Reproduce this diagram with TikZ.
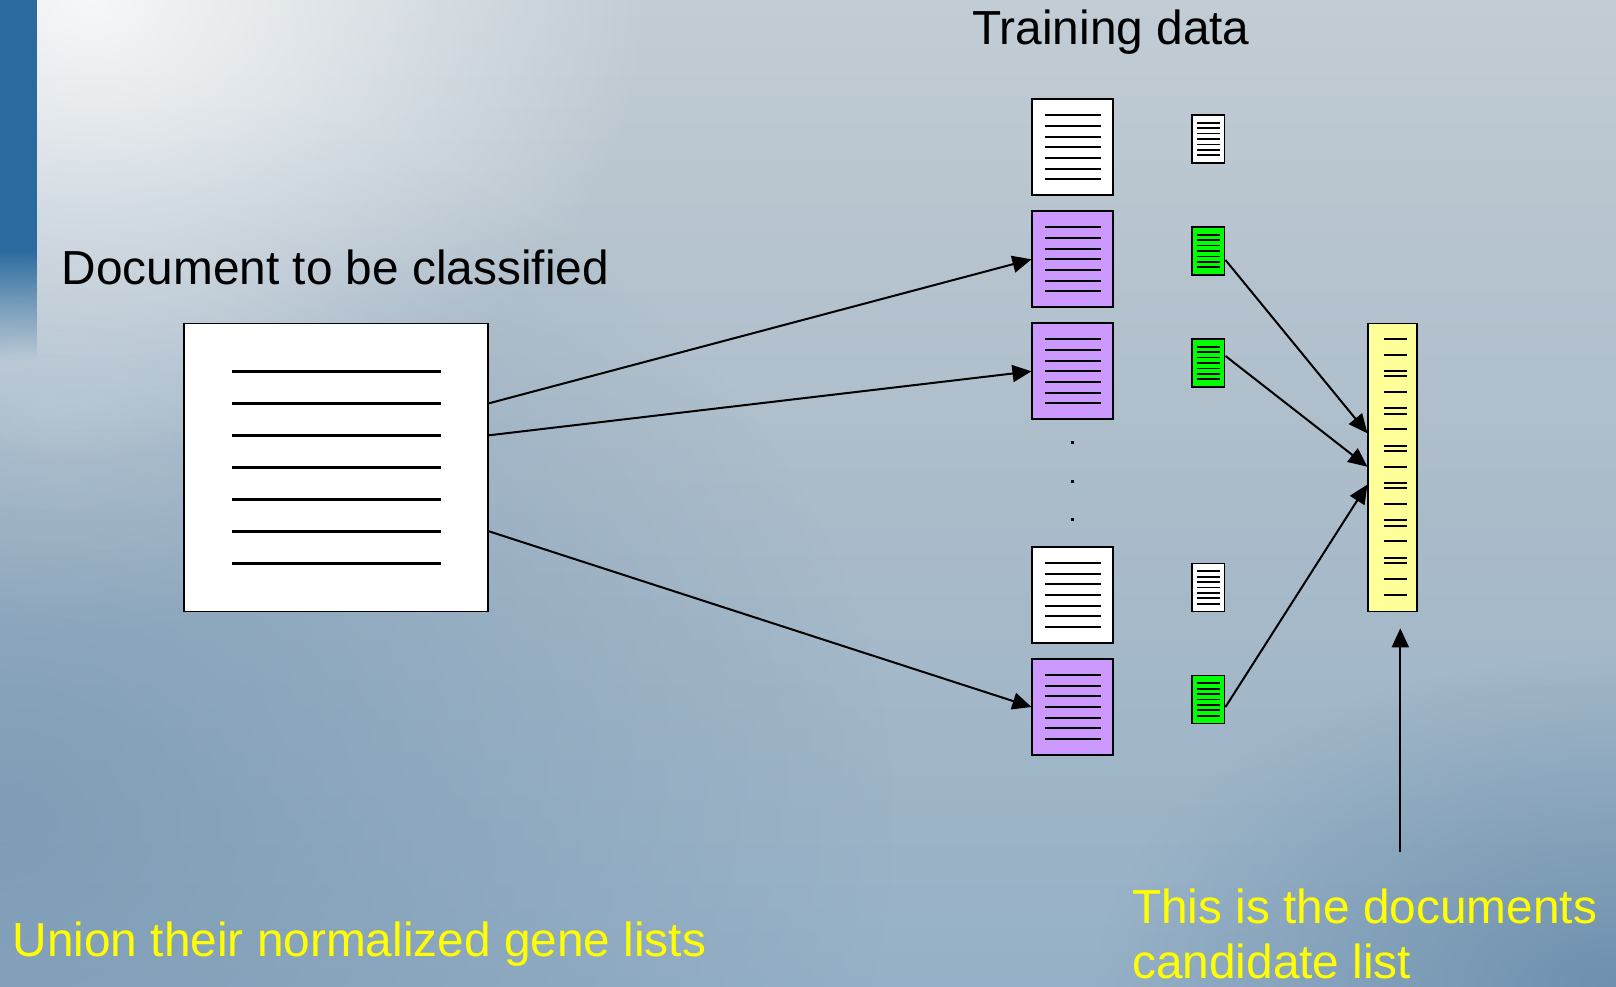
\documentclass[tikz,border=0pt]{standalone}
\usepackage{fontspec}
\setmainfont{Liberation Sans}
\usetikzlibrary{arrows.meta,calc,fadings}
\definecolor{bgtop}{HTML}{C2CCD4}
\definecolor{bgmid}{HTML}{ABBCCA}
\definecolor{bgbot}{HTML}{95B0C6}
\definecolor{bgleft}{HTML}{7696B2}
\definecolor{bgcorner}{HTML}{6589A8}
\definecolor{stripc}{HTML}{2B6A9E}
\definecolor{purp}{HTML}{CC99FF}
\definecolor{grn}{HTML}{00FF00}
\definecolor{ylw}{HTML}{FFFF99}
\definecolor{txtyel}{HTML}{FFFF00}
\tikzfading[name=fadeD, top color=transparent!0, bottom color=transparent!100]
\tikzfading[name=fadeC, inner color=transparent!0, outer color=transparent!100]
\tikzset{
  bigdoc/.style={draw=black, line width=1.8pt, minimum width=80.7pt, minimum height=96pt, inner sep=0pt},
  smalldoc/.style={draw=black, line width=1.6pt, minimum width=32.7pt, minimum height=48pt, inner sep=0pt},
  docline/.style={line width=2.1pt},
  sline/.style={line width=1.7pt},
  arr/.style={line width=2pt, -{Triangle[length=19pt,width=17pt]}},
  lbl/.style={font=\fontsize{47.8pt}{55pt}\selectfont, inner sep=0pt, anchor=base west},
}
\begin{document}
\begin{tikzpicture}[x=1pt,y=-1pt]
\useasboundingbox (0,0) rectangle (1616,987);
% background
\shade[top color=bgtop, bottom color=bgbot, middle color=bgmid] (0,0) rectangle (1616,987);
\begin{scope}
\clip (0,0) rectangle (1616,987);
\fill[bgleft, path fading=fadeC, fill opacity=0.75] (0,820) ellipse (900 and 760);
\fill[bgcorner, path fading=fadeC, fill opacity=0.8] (1616,987) ellipse (520 and 330);
\fill[white, path fading=fadeC, fill opacity=0.2] (60,420) ellipse (380 and 220);
\fill[white, path fading=fadeC, fill opacity=0.85] (90,0) ellipse (560 and 460);
\fill[stripc] (0,0) rectangle (37,250);
\fill[stripc, path fading=fadeD] (0,250) rectangle (37,360);
\end{scope}
% main document
\node[draw=black, fill=white, line width=1.8pt, minimum width=304pt, minimum height=288pt, inner sep=0pt] (main) at (336,467.5) {};
\foreach \k in {-3,...,3} \draw[docline] ($(main.center)+(-104.5,\k*32)$) -- ++(209.5,0);
% training documents
\node[bigdoc, fill=white] (t1) at (1072.7,147.3) {};
\node[bigdoc, fill=purp]  (t2) at (1072.7,259.3) {};
\node[bigdoc, fill=purp]  (t3) at (1072.7,371.3) {};
\node[bigdoc, fill=white] (t5) at (1072.7,595) {};
\node[bigdoc, fill=purp]  (t6) at (1072.7,707) {};
\foreach \n in {t1,t2,t3,t5,t6} {
  \foreach \k in {-3,...,3} \draw[docline] ($(\n.center)+(-28,\k*10.67)$) -- ++(56,0);
}
% small documents
\node[smalldoc, fill=white] (s1) at (1208.3,139) {};
\node[smalldoc, fill=grn]   (s2) at (1208.3,251) {};
\node[smalldoc, fill=grn]   (s3) at (1208.3,363) {};
\node[smalldoc, fill=white] (s5) at (1208.3,587.5) {};
\node[smalldoc, fill=grn]   (s6) at (1208.3,699.5) {};
\foreach \n in {s1,s2,s3,s5,s6} {
  \foreach \k in {-3,...,3} \draw[sline] ($(\n.center)+(-11.8,\k*5.4)$) -- ++(23.6,0);
}
% dots
\foreach \yy in {442,481,519} \fill (1070.5,\yy-1.5) rectangle ++(3,3);
% candidate list
\node[draw=black, fill=ylw, line width=1.8pt, minimum width=48.4pt, minimum height=288pt, inner sep=0pt] (cand) at (1392.5,467.5) {};
\foreach \yy in {339.3,355,370.7,376.3,392.3,408.3,413.7,429.3,445.7,451,466.7,483,488.3,504,520.3,525.7,541.3,557.7,563,578.7,595}
  \draw[line width=1.9pt] (1384.3,\yy) -- (1406.7,\yy);
% arrows
\draw[arr] ([yshift=64.2pt]main.east) -- (t2.west);
\draw[arr] ([yshift=32.2pt]main.east) -- (t3.west);
\draw[arr] ([yshift=-63.8pt]main.east) -- (t6.west);
\draw[arr] ([yshift=-9pt]s2.east) -- ([yshift=34.2pt]cand.west);
\draw[arr] ([yshift=7pt]s3.east) -- ([yshift=0.8pt]cand.west);
\draw[arr] ([yshift=-7.5pt]s6.east) -- ([yshift=-17pt]cand.west);
\coordinate (vbot) at (1400.3,851.7);
\coordinate (vtop) at (1400.3,628.3);
\draw[arr] (vbot) -- (vtop);
% labels
\node[lbl] (title) at (972.2,45) {Training data};
\node[lbl] (doclbl) at (61.5,284.3) {Document to be classified};
\node[lbl, text=txtyel] (union) at (12.5,956.5) {Union their normalized gene lists};
\node[lbl, text=txtyel] (cand1) at (1132,923.3) {This is the documents};
\node[lbl, text=txtyel] (cand2) at (1132,978.3) {candidate list};
\end{tikzpicture}
\end{document}
